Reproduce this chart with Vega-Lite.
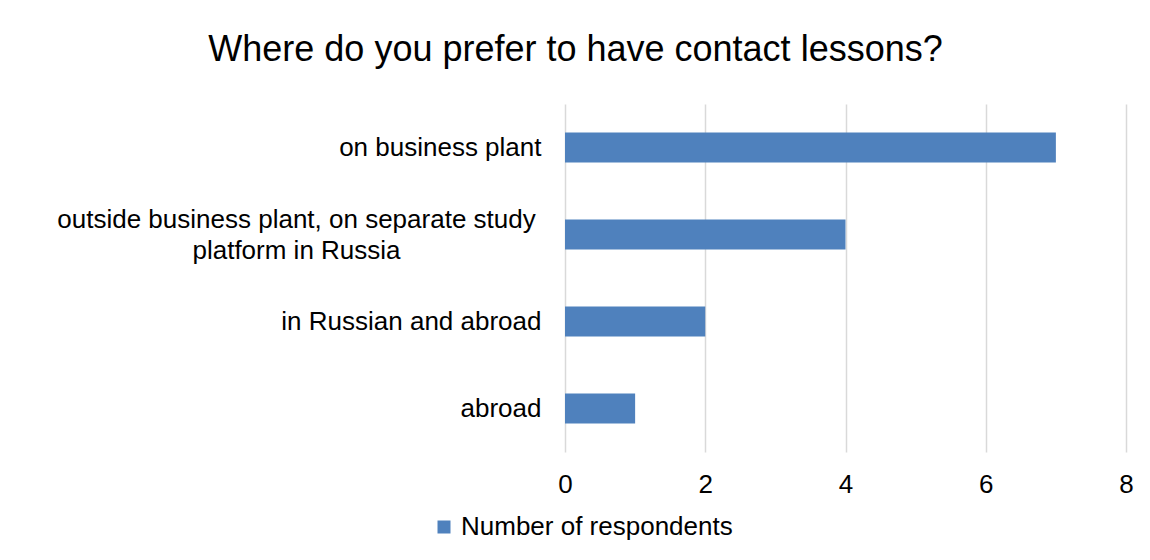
{
  "$schema": "https://vega.github.io/schema/vega-lite/v6.json",
  "autosize": {"type": "none"},
  "width": 561,
  "height": 348,
  "padding": {"left": 565, "top": 104, "right": 24, "bottom": 108},
  "background": "white",
  "title": {
    "text": "Where do you prefer to have contact lessons?",
    "font": "Liberation Sans",
    "fontSize": 36,
    "fontWeight": "normal",
    "color": "#000000",
    "anchor": "middle",
    "baseline": "alphabetic",
    "offset": 7,
    "dx": -270
  },
  "data": {
    "values": [
      {"place": "on business plant", "count": 7, "series": "Number of respondents"},
      {"place": "outside business plant, on separate study|platform in Russia", "count": 4, "series": "Number of respondents"},
      {"place": "in Russian and abroad", "count": 2, "series": "Number of respondents"},
      {"place": "abroad", "count": 1, "series": "Number of respondents"}
    ]
  },
  "mark": {"type": "bar"},
  "encoding": {
    "y": {
      "field": "place",
      "type": "nominal",
      "sort": null,
      "title": null,
      "scale": {"paddingInner": 0.655, "paddingOuter": 0.3275},
      "axis": {
        "domain": false,
        "ticks": false,
        "grid": false,
        "labelFont": "Liberation Sans",
        "labelFontSize": 26,
        "labelColor": "#000000",
        "labelLimit": 600,
        "labelLineHeight": 31,
        "labelExpr": "split(datum.label, '|')",
        "labelAlign": {"condition": {"test": "indexof(datum.value, '|') >= 0", "value": "center"}, "value": "right"},
        "labelPadding": {"condition": {"test": "indexof(datum.value, '|') >= 0", "value": 269}, "value": 24},
        "labelOffset": {"condition": {"test": "indexof(datum.value, '|') >= 0", "value": -15}, "value": 0}
      }
    },
    "x": {
      "field": "count",
      "type": "quantitative",
      "title": null,
      "scale": {"domain": [0, 8]},
      "axis": {
        "values": [0, 2, 4, 6, 8],
        "domain": false,
        "ticks": false,
        "grid": true,
        "gridColor": "#d9d9d9",
        "gridWidth": 1.5,
        "labelFlush": false,
        "labelFont": "Liberation Sans",
        "labelFontSize": 26,
        "labelColor": "#000000",
        "labelPadding": 19
      }
    },
    "color": {
      "field": "series",
      "type": "nominal",
      "title": null,
      "scale": {"range": ["#4f81bd"]},
      "legend": {
        "orient": "none",
        "legendX": -134,
        "legendY": 410,
        "symbolType": "square",
        "symbolSize": 169,
        "symbolStrokeWidth": 0,
        "labelFont": "Liberation Sans",
        "labelFontSize": 26,
        "labelColor": "#000000",
        "labelLimit": 500,
        "labelOffset": 4,
        "padding": 0
      }
    }
  },
  "config": {
    "view": {"stroke": null}
  }
}
